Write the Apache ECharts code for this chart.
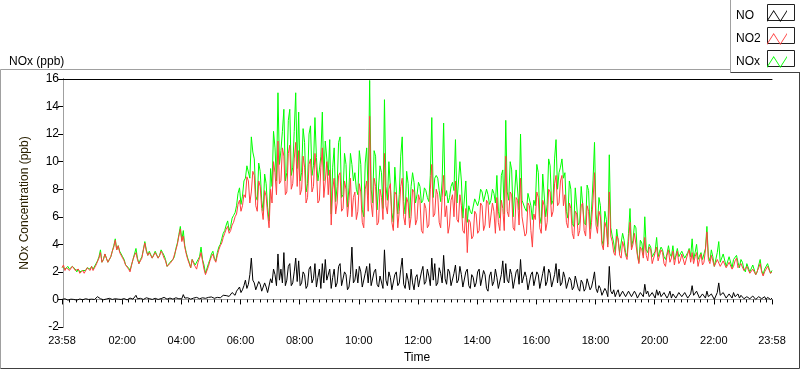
<!DOCTYPE html>
<html>
<head>
<meta charset="utf-8">
<script src="https://cdn.jsdelivr.net/npm/echarts@6/dist/echarts.min.js"></script>
<style>
html,body{margin:0;padding:0;background:#fff;}
#chart{width:800px;height:369px;}
</style>
</head>
<body>
<div id="chart"></div>
<script>
// Sampling: one value every 3 minutes, first sample at 23:58 (-2 min)
const START_MIN = -2;
const STEP_MIN = 3;

const no2Values = [
2.3,2.5,2.1,2.3,2.4,2.1,2.2,2.4,2.3,2.1,2.0,2.2,1.9,2.0,2.1,1.9,2.0,2.3,2.2,2.1,
2.4,2.1,2.2,2.5,2.6,3.0,3.4,2.7,2.9,3.3,3.2,2.7,2.8,3.1,3.5,3.8,4.3,3.6,3.9,3.4,
3.3,3.0,2.8,2.5,2.4,2.2,2.0,2.5,2.9,3.2,3.4,2.9,2.6,2.8,3.0,3.6,4.1,3.5,3.2,3.4,
3.4,3.0,3.1,3.4,3.5,3.0,3.2,3.5,3.3,3.0,2.8,2.4,2.3,2.6,2.5,2.9,3.0,3.6,4.0,4.6,
5.1,4.2,4.6,3.8,3.3,2.9,2.6,2.3,2.9,2.6,2.4,2.2,2.7,3.0,3.4,2.8,2.2,1.8,1.9,2.4,
2.8,3.1,3.3,2.9,2.7,3.2,3.6,3.9,4.1,4.5,4.8,5.1,5.3,4.8,5.0,5.4,5.6,6.0,6.2,6.9,
7.2,6.4,6.8,7.6,7.4,8.9,8.6,7.0,7.8,9.3,9.0,6.8,6.4,8.6,8.2,6.6,5.8,7.9,7.5,6.2,
5.2,8.0,7.0,10.0,9.2,7.6,11.5,8.4,8.6,11.0,10.4,7.6,7.8,10.6,11.2,8.0,8.4,10.2,11.4,8.2,
10.8,7.6,8.0,10.4,9.6,7.0,7.4,9.8,10.2,7.8,8.2,10.6,9.4,7.0,7.2,9.6,11.0,7.4,8.6,10.0,
7.6,9.4,5.4,8.0,8.8,6.2,7.0,9.0,9.2,6.4,6.6,8.6,8.0,6.0,7.2,8.8,6.0,7.4,7.8,5.8,
6.4,8.4,7.8,5.6,5.2,8.0,8.6,6.4,13.3,7.0,6.0,8.8,8.2,5.4,5.6,8.0,7.4,5.8,10.6,6.8,
6.2,8.0,8.4,5.6,5.0,7.8,7.6,5.2,6.4,8.2,8.8,6.0,5.4,7.4,7.0,5.2,6.0,8.0,7.8,5.4,
5.8,7.6,7.2,5.0,4.8,7.0,6.6,5.2,5.4,8.0,9.8,6.0,6.2,8.0,7.6,5.6,5.2,7.4,9.0,6.0,
6.8,4.8,5.4,7.2,7.6,6.0,8.6,5.8,5.6,7.6,6.8,5.0,4.8,6.6,3.4,5.8,5.6,4.4,4.6,6.4,
6.2,4.8,5.0,7.0,6.8,5.0,5.4,7.2,7.0,5.2,5.2,7.0,6.4,4.8,7.4,5.6,5.0,7.2,6.6,5.0,
10.4,6.4,6.0,7.8,7.6,5.2,5.0,7.4,7.2,5.4,8.8,6.0,6.0,4.6,4.8,7.0,6.8,5.0,3.8,6.2,
5.8,7.8,7.4,5.2,4.8,7.2,6.8,5.0,5.6,8.0,7.8,6.0,6.4,8.4,9.0,6.8,7.0,8.6,9.0,6.8,
7.6,5.6,5.2,7.0,6.6,4.8,4.4,6.4,6.2,4.6,5.0,6.8,7.0,5.0,4.6,6.8,6.4,4.4,5.6,7.2,
9.2,5.4,4.8,6.4,6.0,4.0,3.6,5.6,5.2,3.8,7.8,4.6,4.2,3.4,3.2,4.6,4.4,3.2,3.0,4.2,
3.8,3.2,2.9,4.2,5.6,3.6,4.0,4.8,4.8,3.2,2.6,3.8,3.6,3.0,4.5,3.2,2.8,3.8,3.6,2.6,
2.6,3.4,3.8,2.8,2.9,3.6,3.4,2.6,2.4,3.2,3.6,2.7,3.0,3.5,2.5,3.1,3.5,2.6,2.8,3.3,
3.2,2.5,2.6,3.3,3.6,2.7,3.4,2.6,3.1,3.4,2.4,2.9,3.3,2.5,2.7,3.6,4.9,2.9,2.6,3.2,
2.8,2.4,2.3,2.9,3.0,2.4,2.5,2.8,2.9,2.3,2.2,2.7,2.7,2.2,2.4,2.8,3.0,2.3,2.2,2.6,
2.5,2.1,2.0,2.4,2.4,1.9,1.8,2.2,2.2,1.8,1.9,2.3,2.6,2.0,1.7,2.0,2.1,2.4,2.3,1.9,2.0];

const noValues = [
0.0,-0.05,0.05,0.0,-0.05,0.03,0.02,-0.04,0.0,0.04,-0.05,0.0,0.03,-0.03,-0.02,0.04,0.05,-0.02,0.0,0.03,
0.02,0.1,0.0,0.05,0.2,0.1,0.05,-0.03,-0.02,0.04,0.03,-0.02,0.08,0.02,0.0,0.06,0.05,-0.02,0.02,0.07,
0.0,0.05,0.06,-0.02,-0.03,0.05,0.1,0.0,0.02,0.12,0.3,0.05,0.0,0.08,0.05,0.0,0.08,0.12,0.0,0.06,
0.05,0.0,0.02,0.08,0.1,0.0,-0.02,0.06,0.06,0.15,0.12,0.02,0.0,0.1,0.08,0.02,0.05,0.12,0.1,0.05,
0.15,0.05,0.35,0.1,0.05,0.12,0.1,0.02,0.0,0.1,0.08,0.15,0.15,0.05,0.05,0.12,0.25,0.08,0.1,0.15,
0.1,0.18,0.15,0.08,0.08,0.15,0.2,0.12,0.25,0.3,0.2,0.28,0.35,0.22,0.3,0.5,0.45,0.3,0.6,0.75,
0.9,0.5,0.7,1.0,1.4,0.8,1.1,1.8,3.0,1.4,1.2,0.7,0.8,1.3,1.1,0.6,0.6,1.2,0.9,0.5,
0.5,1.5,1.2,2.2,1.8,1.0,3.3,1.4,2.2,1.2,3.4,1.0,1.4,2.4,2.6,1.0,1.2,2.0,3.0,1.3,
2.8,1.0,1.2,2.0,1.8,0.8,1.0,2.2,2.4,1.2,1.5,2.6,0.9,1.6,2.2,0.8,2.6,1.2,2.9,1.4,
1.4,2.2,0.8,1.6,2.2,0.9,1.2,2.4,2.6,1.0,1.0,2.0,1.8,0.7,0.9,1.8,3.8,1.2,1.4,2.2,
1.2,2.4,2.0,0.9,0.8,1.9,2.4,1.2,2.6,1.0,1.0,2.0,2.2,1.1,0.9,1.7,1.8,0.8,3.6,1.4,
1.0,2.0,1.6,0.7,0.6,1.8,2.0,1.0,1.2,2.2,3.0,1.1,0.8,1.9,1.4,0.7,2.2,1.2,0.7,1.6,
1.8,0.9,1.0,2.0,2.4,1.1,1.3,2.2,1.7,1.0,3.0,1.4,2.6,1.0,1.2,2.3,1.9,1.2,3.2,1.5,
1.1,2.2,2.0,1.0,0.9,1.9,2.5,1.2,1.4,2.4,1.8,0.9,1.0,2.0,2.2,1.0,0.8,1.8,1.6,0.9,
1.2,2.0,2.2,1.0,1.0,2.1,1.8,0.8,0.6,1.7,2.0,1.0,1.3,2.2,1.6,0.8,0.9,1.8,2.8,1.2,
2.6,1.4,1.2,2.2,1.8,0.8,0.9,2.0,2.2,1.1,2.9,1.2,1.1,2.0,1.6,0.7,0.8,1.8,2.0,1.0,
1.0,2.0,1.8,0.8,0.7,1.9,2.4,1.0,1.3,2.2,1.9,0.9,0.8,1.8,2.6,1.2,2.2,1.0,1.2,2.0,
1.6,0.8,0.7,1.6,1.4,0.7,0.9,1.7,1.8,0.8,0.6,1.4,1.2,0.6,0.8,1.5,1.5,0.7,0.9,1.4,
2.0,0.8,0.5,1.0,0.8,0.3,0.3,0.8,0.6,0.2,2.4,0.6,0.4,0.7,0.2,0.5,0.7,0.2,0.3,0.6,
0.5,0.2,0.2,0.6,0.7,0.2,0.3,0.6,0.4,0.1,0.1,0.5,0.5,0.2,1.1,0.4,0.6,0.2,0.2,0.5,
0.4,0.1,0.7,0.3,0.6,0.2,0.2,0.5,0.5,0.1,0.3,0.6,0.1,0.4,0.4,0.1,0.2,0.5,0.5,0.2,
0.2,0.5,0.4,0.1,0.1,0.4,1.0,0.3,0.3,0.6,0.5,0.1,0.1,0.4,0.3,0.1,0.6,0.2,0.2,0.4,
0.3,0.0,0.1,0.5,1.2,0.3,0.2,0.5,0.4,0.1,0.1,0.4,0.3,0.1,0.5,0.2,0.2,0.4,0.1,0.3,
0.2,0.05,0.0,0.2,0.3,0.05,0.1,0.25,0.2,0.0,0.05,0.2,0.25,0.05,0.1,0.2,0.0,0.15,0.15,0.0,0.1];

const noxValues = [
2.4,2.5,2.2,2.3,2.4,2.2,2.3,2.4,2.3,2.2,2.0,2.2,2.0,2.0,2.1,2.0,2.1,2.3,2.2,2.2,
2.4,2.2,2.2,2.6,2.8,3.1,3.6,2.7,2.9,3.3,3.3,2.7,2.9,3.1,3.5,3.9,4.4,3.6,3.9,3.5,
3.3,3.1,2.9,2.5,2.4,2.3,2.1,2.5,2.9,3.3,3.7,3.0,2.6,2.9,3.1,3.6,4.2,3.6,3.2,3.5,
3.5,3.0,3.1,3.5,3.6,3.0,3.2,3.6,3.4,3.2,2.9,2.4,2.3,2.7,2.6,2.9,3.1,3.7,4.1,4.7,
5.3,4.3,5.0,3.9,3.4,3.0,2.7,2.3,2.9,2.7,2.5,2.4,2.9,3.1,3.8,2.9,2.5,1.9,2.0,2.6,
2.9,3.3,3.5,3.0,2.8,3.4,3.8,4.0,4.4,4.8,5.0,5.4,5.7,5.0,5.3,5.9,6.1,6.3,6.8,7.7,
8.1,6.9,7.5,8.6,8.8,9.7,9.7,8.8,11.8,10.7,10.2,7.5,7.2,9.9,9.3,7.2,6.4,9.1,8.4,6.7,
5.7,9.5,8.2,12.2,11.0,8.6,15.0,9.8,10.8,12.2,13.8,8.6,9.2,13.0,13.8,9.0,9.6,12.2,15.0,9.5,
13.6,8.6,9.2,12.4,11.4,7.8,8.4,12.0,12.6,9.0,9.7,13.2,10.3,8.6,9.4,10.4,13.6,8.6,11.5,11.4,
9.0,11.6,6.2,9.6,11.0,7.1,8.2,11.4,11.8,7.4,7.6,10.6,9.8,6.7,8.1,10.6,9.8,8.6,9.2,8.0,
7.6,10.8,9.8,6.5,6.0,9.9,11.0,7.6,15.9,8.0,7.0,10.8,10.4,6.5,6.5,9.7,9.2,6.6,14.5,8.2,
7.2,10.0,10.0,6.3,5.6,9.6,9.6,6.2,7.6,10.4,11.8,7.1,6.2,9.3,8.4,5.9,8.2,9.2,8.5,7.0,
7.6,8.5,8.2,7.0,7.2,8.1,7.9,7.4,7.1,9.0,13.2,7.4,8.8,9.0,8.8,7.9,7.1,8.6,12.8,7.5,
7.9,7.0,7.4,8.2,8.5,7.9,11.6,7.0,7.0,10.0,8.6,5.9,5.8,8.6,5.6,6.8,6.4,6.2,6.2,7.3,
7.4,6.8,7.2,8.0,7.8,7.1,7.2,8.0,7.6,6.9,7.2,8.0,7.7,7.0,9.0,6.4,5.9,9.0,9.4,6.2,
13.0,7.8,7.2,10.0,9.4,6.0,5.9,9.4,9.4,6.5,12.0,7.2,7.1,6.6,6.4,7.7,7.6,6.8,5.8,7.2,
6.8,9.8,9.2,6.0,5.5,9.1,9.2,6.0,6.9,10.2,9.7,6.9,7.2,10.2,11.6,8.0,9.2,9.6,10.2,8.8,
9.2,6.4,5.9,8.6,8.0,5.5,5.3,8.1,8.0,5.4,5.6,8.2,8.2,5.6,5.4,8.3,7.9,5.1,6.5,8.6,
11.4,6.2,5.3,7.4,6.8,4.3,3.9,6.4,5.8,4.0,10.5,5.2,4.6,4.1,3.4,5.1,5.1,3.4,3.3,4.8,
4.3,3.4,3.1,4.8,6.6,3.8,4.3,5.4,5.2,3.3,2.7,4.3,4.1,3.2,6.0,3.6,3.4,4.0,3.8,3.1,
3.0,3.5,4.5,3.1,3.5,3.8,3.6,3.1,2.9,3.3,3.9,3.3,3.1,3.9,2.9,3.2,3.7,3.1,3.3,3.5,
3.4,3.0,3.0,3.4,3.7,3.1,4.4,2.9,3.4,4.0,2.9,3.0,3.4,2.9,3.0,3.7,5.3,3.1,2.8,3.6,
3.1,2.4,2.4,3.4,4.2,2.7,2.7,3.3,3.3,2.4,2.3,3.1,3.0,2.3,2.9,3.0,3.2,2.7,2.3,2.9,
2.7,2.2,2.0,2.6,2.7,2.0,1.9,2.5,2.4,1.8,2.0,2.5,2.9,2.1,1.8,2.2,2.1,2.6,2.5,1.9,2.1];

// Tick labels (minutes after midnight; -2 = 23:58 of previous day)
const xTickMinutes = [-2,120,240,360,480,600,720,840,960,1080,1200,1320,1438];
const yMin = -2, yMax = 16, yInterval = 2;

const seriesNames = ['NO','NO2','NOx'];
const seriesColors = {NO:'#000000', NO2:'#ff4040', NOx:'#00ff00'};

function toPairs(arr){
  return arr.map((v,i)=>[START_MIN + i*STEP_MIN, v]);
}
function fmtTime(m){
  let t = ((Math.round(m)%1440)+1440)%1440;
  const h = Math.floor(t/60), mm = t%60;
  return String(h).padStart(2,'0') + ':' + String(mm).padStart(2,'0');
}
// minor ticks every 2h/9 between majors
const minorTicks = [];
for (let k=0; k<=108; k++){
  const v = k*120/9;
  if (v > -2 && v < 1438 && k%9 !== 0) minorTicks.push(v);
}

const FONT = 'Liberation Sans';
const ZIGZAG = 'path://M0,11 L7,0 L14,11 L21,0 L21,1.6 L14,12.6 L7,1.6 L0,12.6 Z';
const chart = echarts.init(document.getElementById('chart'), null, {renderer:'canvas'});
const option = {
  animation:false,
  backgroundColor:'#ffffff',
  textStyle:{fontFamily:FONT},
  title:{
    text:'NOx (ppb)', left:4, top:51,
    textStyle:{fontFamily:FONT,fontSize:12,fontWeight:'normal',color:'#000'}
  },
  legend:{
    orient:'vertical', right:8, top:5,
    itemWidth:22, itemHeight:12, itemGap:11,
    align:'right',
    data:seriesNames.map(n=>({name:n, icon:ZIGZAG, itemStyle:{color:seriesColors[n], borderWidth:0}})),
    formatter:function(n){ return '{a|'+n+'}'; },
    textStyle:{fontFamily:FONT,fontSize:12,color:'#000',
      rich:{a:{width:25,align:'left',fontFamily:FONT,fontSize:12,color:'#000'}}}
  },
  grid:{left:62, right:28, top:79, bottom:40},
  xAxis:[
    {type:'value', min:-2, max:1438, position:'bottom',
     axisLine:{show:true,lineStyle:{color:'#a0a0a0',width:1}},
     axisTick:{show:true,customValues:xTickMinutes,length:5,lineStyle:{color:'#000'}},
     axisLabel:{customValues:xTickMinutes,formatter:fmtTime,margin:8,color:'#000',fontSize:11,fontFamily:FONT},
     splitLine:{show:false},
     name:'Time', nameLocation:'middle', nameGap:25,
     nameTextStyle:{fontFamily:FONT,fontSize:12,color:'#000'}},
    {type:'value', min:-2, max:1438, position:'bottom',
     axisLine:{show:false},
     axisTick:{show:true,customValues:minorTicks,length:3,lineStyle:{color:'#000'}},
     axisLabel:{show:false}, splitLine:{show:false}},
    {type:'value', min:-2, max:1438, position:'top',
     axisLine:{show:true,lineStyle:{color:'#000',width:1}},
     axisTick:{show:false}, axisLabel:{show:false}, splitLine:{show:false}}
  ],
  yAxis:[
    {type:'value', min:yMin, max:yMax, interval:yInterval,
     axisLine:{show:true,lineStyle:{color:'#000',width:1}},
     axisTick:{show:true,length:5,lineStyle:{color:'#000'}},
     axisLabel:{margin:3,color:'#000',fontSize:12,fontFamily:FONT},
     splitLine:{show:false},
     name:'NOx Concentration (ppb)', nameLocation:'middle', nameGap:31, nameRotate:90,
     nameTextStyle:{fontFamily:FONT,fontSize:12,color:'#2a2000'}},
    {type:'value', min:yMin, max:yMax, interval:yInterval, position:'right',
     axisLine:{show:true,lineStyle:{color:'#a0a0a0',width:1}},
     axisTick:{show:false}, axisLabel:{show:false}, splitLine:{show:false}}
  ],
  series:[
    {name:'NOx', type:'line', data:toPairs(noxValues), showSymbol:false, symbol:'none',
     color:seriesColors.NOx, lineStyle:{width:1,color:seriesColors.NOx}, z:2},
    {name:'NO2', type:'line', data:toPairs(no2Values), showSymbol:false, symbol:'none',
     color:seriesColors.NO2, lineStyle:{width:1,color:seriesColors.NO2}, z:3},
    {name:'NO', type:'line', data:toPairs(noValues), showSymbol:false, symbol:'none',
     color:seriesColors.NO, lineStyle:{width:1,color:seriesColors.NO}, z:4}
  ],
  graphic:[
    // outer frame
    {type:'line', shape:{x1:0.5,y1:69.5,x2:730,y2:69.5}, style:{stroke:'#a0a0a0',lineWidth:1}, silent:true},
    {type:'line', shape:{x1:0.5,y1:69.5,x2:0.5,y2:368.5}, style:{stroke:'#a0a0a0',lineWidth:1}, silent:true},
    {type:'line', shape:{x1:0.5,y1:368.5,x2:799.5,y2:368.5}, style:{stroke:'#404040',lineWidth:1}, silent:true},
    {type:'line', shape:{x1:799.5,y1:72,x2:799.5,y2:368.5}, style:{stroke:'#404040',lineWidth:1}, silent:true},
    // legend frame
    {type:'line', shape:{x1:730.5,y1:0,x2:730.5,y2:72.5}, style:{stroke:'#a0a0a0',lineWidth:1}, silent:true},
    {type:'line', shape:{x1:730.5,y1:72.5,x2:800,y2:72.5}, style:{stroke:'#404040',lineWidth:1}, silent:true},
    // legend icon boxes
    {type:'rect', shape:{x:767.5,y:4.5,width:27,height:16}, style:{fill:'none',stroke:'#202020',lineWidth:1}, silent:true},
    {type:'rect', shape:{x:767.5,y:27.5,width:27,height:16}, style:{fill:'none',stroke:'#202020',lineWidth:1}, silent:true},
    {type:'rect', shape:{x:767.5,y:50.5,width:27,height:16}, style:{fill:'none',stroke:'#202020',lineWidth:1}, silent:true}
  ]
};
chart.setOption(option);
</script>
</body>
</html>
